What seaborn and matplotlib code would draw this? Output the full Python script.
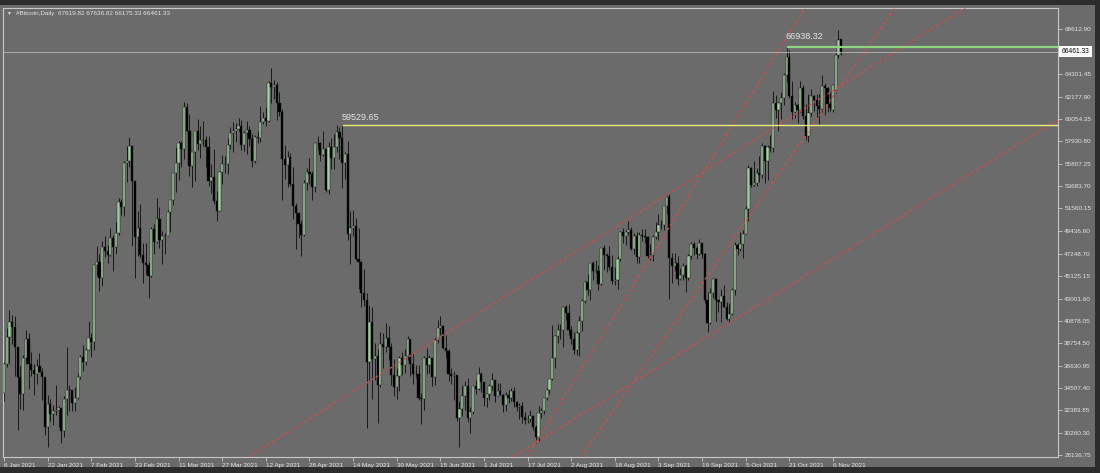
import numpy as np
import pandas as pd
import matplotlib
matplotlib.use("Agg")
import matplotlib.pyplot as plt
import matplotlib.transforms as mtransforms
from matplotlib.patches import Rectangle
import seaborn as sns

# daily bars, first bar = 6 Jan 2021
first_day = "2021-01-06"

opens = [
    # Jan (6-31)
    33992, 36824, 39371, 40797, 40254, 38356, 35566, 33922, 37316, 39187, 36825, 36178, 35792, 36630, 36070, 35548,
    30825, 33005, 32067, 32289, 32366, 32569, 30432, 33467, 34316, 34270,
    # Feb
    33114, 33538, 35510, 37473, 36926, 38144, 39266, 38904, 46196, 46481, 44919, 47910, 47505, 47106, 48717, 47945,
    49200, 52149, 51679, 55889, 56100, 57540, 54208, 48825, 49705, 47093, 46339, 46188,
    # Mar
    45137, 49632, 48378, 50538, 48562, 48927, 48912, 51207, 52385, 54884, 55851, 57773, 57221, 61188, 58968, 55605,
    56900, 58913, 57665, 58075, 58085, 57411, 54204, 54529, 52300, 51315, 55027, 55817, 55777, 57635, 58730,
    # Apr
    58918, 59095, 59384, 57603, 58758, 59057, 58192, 56048, 58323, 58245, 59793, 60204, 59893, 63503, 63110, 63315,
    61572, 60683, 56216, 55724, 56473, 53906, 51763, 51093, 50050, 49004, 54021, 55033, 54824, 53555,
    # May
    57750, 57828, 56631, 57200, 53333, 57424, 56397, 57357, 58803, 58232, 55859, 56704, 49150, 49716, 49880, 46760,
    46456, 43538, 42909, 36964, 40784, 37304, 37536, 34770, 38705, 38402, 39294, 38436, 35697, 34616, 35678,
    # Jun
    37332, 36684, 37575, 39187, 36825, 35791, 35862, 33560, 33472, 37346, 36702, 37334, 35552, 39097, 40218, 40406,
    38347, 38053, 35787, 35615, 35698, 31676, 32505, 33723, 34662, 31637, 32186, 34649, 34434, 35867,
    # Jul
    35040, 33572, 33897, 34668, 35287, 33746, 34235, 33855, 32877, 33798, 33520, 34240, 33155, 32702, 32822, 31780,
    31421, 31533, 31796, 30817, 29807, 32110, 32313, 33581, 34292, 35350, 37337, 39406, 39995, 40008, 42235,
    # Aug
    41626, 39974, 39201, 38152, 39747, 40869, 42816, 44555, 43798, 46365, 45585, 45593, 44428, 47793, 47096, 47047,
    46004, 44695, 44801, 46717, 49339, 48905, 49321, 49546, 47706, 48960, 46942, 49058, 48902, 48830, 47054,
    # Sep
    47166, 48847, 49327, 50025, 49944, 51753, 52633, 46811, 46091, 46391, 44883, 45201, 46063, 44963, 47092, 48176,
    47783, 47267, 48278, 47261, 42844, 40693, 43574, 44896, 42839, 42716, 43208, 42235, 41034, 41564,
    # Oct
    43790, 48116, 47711, 48199, 49112, 51515, 55361, 53805, 53967, 54968, 54771, 57484, 56041, 57401, 57321, 61593,
    60892, 61553, 62026, 64262, 65993, 62210, 60692, 61393, 60931, 63039, 60363, 58482, 60623, 62228, 61888,
    # Nov (1-9)
    61318, 61004, 63226, 62970, 61452, 60910, 62820, 66140, 67620,
]

highs = [
    36940, 40180, 41950, 41400, 41380, 38356, 36630, 37600, 40000, 39700, 37900, 36800, 37300, 37860, 36400, 35550,
    33800, 33450, 32900, 34800, 32800, 32570, 33780, 38400, 34800, 34290,
    34640, 35900, 37660, 38600, 38280, 40860, 39700, 46200, 48000, 47200, 48460, 48900, 48050, 49700, 49000, 50300,
    52530, 52500, 56100, 57500, 58330, 57540, 54200, 51300, 52000, 48300, 48280, 46500,
    49780, 50130, 52540, 51740, 49400, 49200, 51400, 52400, 54900, 57400, 58000, 58000, 61700, 61600, 60500, 56900,
    58900, 60100, 59400, 59900, 58400, 58400, 55800, 57200, 53200, 55100, 56600, 56500, 58300, 59300, 59800,
    59700, 60200, 60000, 58900, 59900, 59400, 58600, 58500, 58900, 61300, 60700, 61200, 63700, 64860, 63800, 63600,
    62600, 61000, 57600, 57000, 56800, 55500, 52100, 51200, 50500, 54300, 55400, 56400, 55100, 57900,
    58400, 57900, 58900, 57200, 57900, 58300, 58600, 59500, 59300, 59600, 56900, 58000, 51300, 51400, 50700, 49700,
    46600, 45800, 43500, 42400, 42200, 38800, 38200, 39800, 39700, 40700, 40400, 38800, 37300, 36400, 37500,
    37900, 38200, 39400, 39200, 37800, 36700, 36700, 34000, 37500, 38300, 37600, 37400, 39300, 41000, 41300, 40500,
    39500, 38200, 36400, 36100, 35700, 33300, 34800, 35200, 35500, 32700, 34700, 35300, 36500, 36000,
    35100, 33900, 34900, 35900, 35300, 35000, 35000, 33900, 34100, 34300, 34500, 34600, 33300, 33100, 33200, 32200,
    31900, 32400, 31900, 31000, 32800, 32600, 33600, 34500, 35400, 40500, 39500, 40600, 40600, 42300, 42400,
    42500, 40400, 39800, 39900, 41300, 43000, 44700, 45300, 46400, 46600, 46700, 46200, 47800, 48100, 47300, 48000,
    47100, 46000, 47000, 49400, 49700, 49500, 50400, 49800, 49200, 49300, 49300, 49600, 49600, 48900, 48200,
    49000, 50300, 51000, 50500, 51800, 52700, 52900, 47300, 47300, 47000, 45900, 46400, 46300, 47200, 48400, 48400,
    48000, 48700, 48300, 47300, 43600, 44000, 45000, 45000, 42900, 43900, 44300, 42700, 42600, 44000,
    48400, 48300, 49300, 49500, 51800, 55700, 55500, 56100, 55400, 56500, 57800, 57600, 57600, 58500, 62700, 62300,
    61700, 62600, 64400, 66938, 66600, 63700, 61700, 61500, 63700, 63300, 61500, 62400, 62900, 62300, 62400,
    62400, 64200, 63500, 63100, 62600, 63400, 66300, 68520, 67637,
]

lows = [
    33290, 36490, 36830, 38720, 35640, 30550, 32530, 32380, 36800, 34400, 35660, 33850, 34900, 36000, 33400, 30070,
    28850, 31400, 30940, 31950, 30840, 29240, 29840, 31900, 32290, 32300,
    32300, 33420, 35380, 36160, 36650, 38140, 37450, 38080, 45170, 43760, 44200, 46950, 46400, 47050, 45600, 47250,
    49000, 50900, 50800, 54100, 55500, 48000, 45000, 47000, 46900, 44450, 45300, 43020,
    45020, 47250, 48270, 47800, 46300, 47200, 48900, 49300, 51900, 53100, 54300, 55500, 56300, 58900, 54600, 53600,
    54200, 57100, 56400, 57500, 55500, 53700, 53000, 52000, 50400, 51300, 53900, 54900, 54800, 57200, 56900,
    57900, 58900, 57100, 57000, 56700, 57500, 55500, 55900, 57800, 57900, 59600, 59400, 59800, 61600, 62000, 60000,
    60300, 52400, 54400, 53600, 53700, 50600, 47700, 48800, 47000, 48900, 53300, 53900, 52400, 53100,
    57100, 56100, 56500, 53100, 52900, 55300, 55300, 56900, 56300, 53500, 54400, 48600, 46300, 48900, 46700, 43900,
    42200, 42300, 30700, 35300, 33500, 35300, 31200, 34600, 36400, 37900, 37200, 34800, 33700, 33500, 34200,
    35700, 35900, 37200, 35600, 34900, 35500, 33400, 31100, 32400, 35800, 35900, 34700, 34800, 38800, 39500, 38200,
    37400, 35200, 34900, 33400, 31400, 28900, 31800, 32400, 31300, 30200, 32000, 33900, 34300, 34100,
    32800, 32700, 33400, 34300, 33200, 33700, 33800, 32200, 32300, 33100, 33300, 32700, 32300, 31600, 31200, 31100,
    31200, 31300, 30500, 29300, 29500, 31700, 32000, 33400, 33900, 35300, 36400, 38800, 39200, 38400, 41000,
    39500, 38700, 37700, 37600, 37500, 39900, 42600, 43300, 42900, 44800, 45400, 43800, 44300, 45700, 45500, 45700,
    44400, 44300, 43900, 46600, 48300, 48100, 49000, 47600, 47200, 46400, 46400, 48500, 48300, 46900, 46700,
    46600, 48700, 48600, 49600, 49500, 51000, 43000, 44500, 45600, 44300, 44800, 44800, 43600, 44800, 46800, 47100,
    46800, 47100, 46900, 42600, 39800, 40600, 43100, 40900, 41700, 40800, 42200, 41000, 40800, 41400,
    43300, 47100, 47500, 46900, 49100, 50400, 53600, 53700, 53700, 54100, 54500, 54000, 54300, 56900, 56900, 60200,
    58900, 60100, 61400, 63600, 62100, 60100, 60200, 59700, 60700, 60100, 58100, 57900, 60300, 60800, 60100,
    59600, 60700, 60400, 60700, 60800, 60700, 62500, 65900, 66175,
]

closes = [
    36824, 39371, 40797, 40254, 38356, 35566, 33922, 37316, 39187, 36825, 36178, 35792, 36630, 36070, 35548, 30825,
    33005, 32067, 32289, 32366, 32569, 30432, 33467, 34316, 34270, 33114,
    33538, 35510, 37473, 36926, 38144, 39266, 38904, 46196, 46481, 44919, 47910, 47505, 47106, 48717, 47945, 49200,
    52149, 51679, 55889, 56100, 57540, 54208, 48825, 49705, 47093, 46339, 46188, 45137,
    49632, 48378, 50538, 48562, 48927, 48912, 51207, 52385, 54884, 55851, 57773, 57221, 61188, 58968, 55605, 56900,
    58913, 57665, 58075, 58085, 57411, 54204, 54529, 52300, 51315, 55027, 55817, 55777, 57635, 58730, 58918,
    59095, 59384, 57603, 58758, 59057, 58192, 56048, 58323, 58245, 59793, 60204, 59893, 63503, 63110, 63315, 61572,
    60683, 56216, 55724, 56473, 53906, 51763, 51093, 50050, 49004, 54021, 55033, 54824, 53555, 57750,
    57828, 56631, 57200, 53333, 57424, 56397, 57357, 58803, 58232, 55859, 56704, 49150, 49716, 49880, 46760, 46456,
    43538, 42909, 36964, 40784, 37304, 37536, 34770, 38705, 38402, 39294, 38436, 35697, 34616, 35678, 37332,
    36684, 37575, 39187, 36825, 35791, 35862, 33560, 33472, 37346, 36702, 37334, 35552, 39097, 40218, 40406, 38347,
    38053, 35787, 35615, 35698, 31676, 32505, 33723, 34662, 31637, 32186, 34649, 34434, 35867, 35040,
    33572, 33897, 34668, 35287, 33746, 34235, 33855, 32877, 33798, 33520, 34240, 33155, 32702, 32822, 31780, 31421,
    31533, 31796, 30817, 29807, 32110, 32313, 33581, 34292, 35350, 37337, 39406, 39995, 40008, 42235, 41626,
    39974, 39201, 38152, 39747, 40869, 42816, 44555, 43798, 46365, 45585, 45593, 44428, 47793, 47096, 47047, 46004,
    44695, 44801, 46717, 49339, 48905, 49321, 49546, 47706, 48960, 46942, 49058, 48902, 48830, 47054, 47166,
    48847, 49327, 50025, 49944, 51753, 52633, 46811, 46091, 46391, 44883, 45201, 46063, 44963, 47092, 48176, 47783,
    47267, 48278, 47261, 42844, 40693, 43574, 44896, 42839, 42716, 43208, 42235, 41034, 41564, 43790,
    48116, 47711, 48199, 49112, 51515, 55361, 53805, 53967, 54968, 54771, 57484, 56041, 57401, 57321, 61593, 60892,
    61553, 62026, 64262, 65993, 62210, 60692, 61393, 60931, 63039, 60363, 58482, 60623, 62228, 61888, 61318,
    61004, 63226, 62970, 61452, 61125, 63290, 66140, 67560, 66461,
]

price_ticks = [68612.90, 64301.45, 62177.90, 60054.35, 57930.80, 55807.25, 53683.70, 51560.15, 49436.60,
               47248.70, 45125.15, 43001.60, 40878.05, 38754.50, 36630.95, 34507.40, 32383.85, 30260.30, 28136.75]
date_labels = ["6 Jan 2021", "22 Jan 2021", "7 Feb 2021", "23 Feb 2021", "11 Mar 2021", "27 Mar 2021",
               "12 Apr 2021", "28 Apr 2021", "14 May 2021", "30 May 2021", "15 Jun 2021", "1 Jul 2021",
               "17 Jul 2021", "2 Aug 2021", "18 Aug 2021", "3 Sep 2021", "19 Sep 2021", "5 Oct 2021",
               "21 Oct 2021", "6 Nov 2021"]
date_label_days = ["2021-01-06", "2021-01-22", "2021-02-07", "2021-02-23", "2021-03-11", "2021-03-27",
                   "2021-04-12", "2021-04-28", "2021-05-14", "2021-05-30", "2021-06-15", "2021-07-01",
                   "2021-07-17", "2021-08-02", "2021-08-18", "2021-09-03", "2021-09-19", "2021-10-05",
                   "2021-10-21", "2021-11-06"]

header = "#Bitcoin,Daily  67619.82 67636.82 66175.33 66461.33"
bid_price = 66461.33
top_level, top_level_day = 66938.32, "2021-10-20"
mid_level, mid_level_day = 59529.65, "2021-05-10"

# red dotted trend lines, two anchors each (day, price)
trend_lines = [
    (("2021-04-05", 27836), ("2021-12-24", 70548)),
    (("2021-08-05", 27778), ("2021-11-29", 70721)),
    (("2021-07-20", 29300), ("2021-10-27", 70731)),
    (("2021-07-20", 29300), ("2021-09-21", 39400)),
]

# colours
outer = "#2c2c2c"
panel = "#6b6b6b"
light = "#e4e4e4"
bull = "#9fd09f"
bear = "#000000"

sns.set_theme(style="dark", rc={
    "axes.facecolor": panel,
    "figure.facecolor": outer,
    "axes.edgecolor": "#c8c8c8",
    "axes.grid": False,
})
plt.rcParams["font.family"] = ["Liberation Sans", "DejaVu Sans"]

start = pd.Timestamp(first_day)


def day_pos(d):
    return (pd.Timestamp(d) - start).days


df = pd.DataFrame({"open": opens, "high": highs, "low": lows, "close": closes})
df["x"] = np.arange(len(df))
df["up"] = df["close"] >= df["open"]

fig = plt.figure(figsize=(11, 4.73), dpi=100)
fig.patches.append(Rectangle((0, 1 - 467 / 473), 1095 / 1100, 462 / 473,
                             transform=fig.transFigure, facecolor=panel, edgecolor="none", zorder=-10))
ax = fig.add_axes([3 / 1100, 1 - 457 / 473, 1055 / 1100, 449 / 473])
ax.set_zorder(1)

x_right = 386.5
ax.set_xlim(-0.37, x_right)
ax.set_ylim(27947, 70608)

# wicks and bodies
ax.vlines(df["x"], df["low"], df["high"], color="#0c0c0c", lw=0.6, zorder=2)
body_lo = df[["open", "close"]].min(axis=1)
body_h = (df["close"] - df["open"]).abs()
ax.bar(df["x"], body_h, bottom=body_lo, width=0.8,
       color=[bull if u else bear for u in df["up"]], edgecolor="#141414", linewidth=0.3, zorder=3)

# trend lines
for (d1, p1), (d2, p2) in trend_lines:
    ax.axline((day_pos(d1), p1), (day_pos(d2), p2), color="#d44a4a", lw=1.0,
              linestyle=(0, (2, 2)), zorder=4)

# horizontal levels
ax.axhline(bid_price, color="#b8b8b8", lw=0.6, zorder=4)
x_top = day_pos(top_level_day)
ax.hlines(top_level, x_top, x_right, color="#8fd47f", lw=1.6, zorder=4)
ax.text(x_top - 0.5, top_level + 500, f"{top_level:.2f}", color=light, fontsize=6.5,
        ha="left", va="bottom", zorder=5)
x_mid = day_pos(mid_level_day)
ax.hlines(mid_level, x_mid, x_right, color="#ecec7c", lw=1.0, zorder=4)
ax.text(x_mid - 0.3, mid_level + 250, f"{mid_level:.2f}", color=light, fontsize=6.5,
        ha="left", va="bottom", zorder=5)

# price scale on the right
ax.yaxis.tick_right()
ax.set_yticks(price_ticks)
ax.set_yticklabels([f"{v:.2f}" for v in price_ticks])
ax.tick_params(axis="y", right=True, left=False, length=3, width=0.6, color="#c8c8c8",
               labelsize=4.6, labelcolor=light, pad=1.5)
trans = mtransforms.blended_transform_factory(ax.transAxes, ax.transData)
ax.text(1.0035, bid_price, f"{bid_price:.2f}", transform=trans, color="black", fontsize=4.8,
        ha="left", va="center", zorder=6, clip_on=False,
        bbox=dict(boxstyle="square,pad=0.35", facecolor="white", edgecolor="none"))

# date scale
ax.set_xticks([day_pos(d) for d in date_label_days])
ax.set_xticklabels(date_labels, ha="left")
ax.tick_params(axis="x", bottom=True, length=3, width=0.6, color="#c8c8c8",
               labelsize=4.6, labelcolor=light, pad=1)

for s in ax.spines.values():
    s.set_color("#c8c8c8")
    s.set_linewidth(0.8)

# header
ax.text(3 / 1055, 1 - 5 / 449, "\u25bc", transform=ax.transAxes, color=light, fontsize=3.5,
        va="center", ha="left", zorder=6)
ax.text(13 / 1055, 1 - 5 / 449, header, transform=ax.transAxes, color=light, fontsize=4.6,
        va="center", ha="left", zorder=6)

fig.savefig("out.png", dpi=100, facecolor=outer)
